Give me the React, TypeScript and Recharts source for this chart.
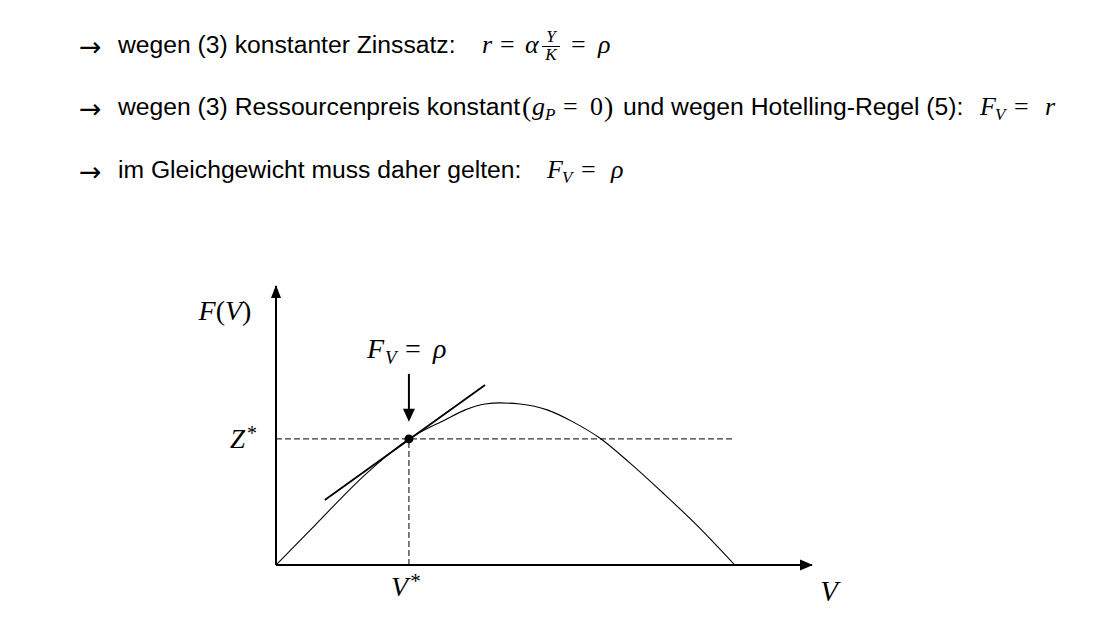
import React from 'react';
import { ComposedChart, Line, XAxis, YAxis, ReferenceLine, ReferenceDot } from 'recharts';

// ---- data (abstract units) ----
const V_STAR = 2.48;
const Z_STAR = 4.52;
const curveV = [0, 0.73, 1.66, 2.48, 3.15, 3.53, 3.9, 4.18, 4.55, 5.06, 5.54, 6.04, 6.6, 7.22, 7.85, 8.56];
const curveF = [0, 1.43, 3.23, 4.52, 5.2, 5.56, 5.77, 5.81, 5.77, 5.56, 5.13, 4.55, 3.66, 2.58, 1.43, 0];
const tangentV = [0.91, 3.9];
const tangentF = [2.33, 6.45];
const zLineV = [0, 8.51];
const xTicks = [V_STAR];
const yTicks = [Z_STAR];
const xTickLabel = 'V';
const yTickLabel = 'Z';
const X_MAX = 10;
const Y_MAX = 10;
const arrowTopF = 6.85;
const arrowBaseF = 5.5;
const arrowTipF = 5.13;

const curveData = curveV.map((v, i) => ({ x: v, y: curveF[i] }));
const tangentData = tangentV.map((v, i) => ({ x: v, y: tangentF[i] }));
const zLineData = zLineV.map((v) => ({ x: v, y: Z_STAR }));
const vLineData = [{ x: V_STAR, y: 0 }, { x: V_STAR, y: Z_STAR }];

const SERIF = '"Liberation Serif", "DejaVu Serif", serif';
const SANS = '"Liberation Sans", Arial, sans-serif';
const ARROWFONT = '"DejaVu Sans", sans-serif';

const XTick = (props: any) => {
  const { x, y } = props;
  return (
    <text x={x - 3} y={y + 31} textAnchor="middle" fontFamily={SERIF} fontSize={28} fill="#000">
      <tspan fontStyle="italic">{xTickLabel}</tspan>
      <tspan fontSize={21} dy={-8} dx={2}>*</tspan>
    </text>
  );
};

const YTick = (props: any) => {
  const { x, y } = props;
  return (
    <text x={x - 19} y={y + 9} textAnchor="end" fontFamily={SERIF} fontSize={27} fill="#000">
      <tspan fontStyle="italic">{yTickLabel}</tspan>
      <tspan fontSize={20} dy={-8} dx={2}>*</tspan>
    </text>
  );
};

const TopText = () => {
  const arrow = (y: number) => (
    <text x={79} y={y} fontFamily={ARROWFONT} fontSize={27} fill="#000">→</text>
  );
  const sans = { fontFamily: SANS, fontSize: 24.7, fill: '#000' } as any;
  const math = { fontFamily: SERIF, fontSize: 26, fill: '#000' } as any;
  return (
    <svg width={1111} height={200} style={{ position: 'absolute', left: 0, top: 0 }}>
      {arrow(56)}
      <text x={118} y={53} {...sans}>wegen (3) konstanter Zinssatz:</text>
      <text x={482} y={53} {...math} fontStyle="italic">r</text>
      <text x={500} y={53} {...math}>=</text>
      <text x={525} y={53} {...math} fontStyle="italic">α</text>
      <text x={551} y={42} {...math} fontSize={17} fontStyle="italic" textAnchor="middle">Y</text>
      <line x1={542} x2={560} y1={46.5} y2={46.5} stroke="#000" strokeWidth={1} />
      <text x={551} y={60} {...math} fontSize={17} fontStyle="italic" textAnchor="middle">K</text>
      <text x={571} y={53} {...math}>=</text>
      <text x={598} y={53} {...math} fontStyle="italic">ρ</text>

      {arrow(118)}
      <text x={118} y={115} {...sans}>wegen (3) Ressourcenpreis konstant</text>
      <text x={522} y={116} {...math} fontSize={28}>(</text>
      <text x={532} y={115} {...math} fontStyle="italic">g</text>
      <text x={545} y={120} {...math} fontSize={17} fontStyle="italic">P</text>
      <text x={563} y={115} {...math}>=</text>
      <text x={590} y={115} {...math}>0</text>
      <text x={604} y={116} {...math} fontSize={28}>)</text>
      <text x={623} y={115} {...sans}>und wegen Hotelling-Regel (5):</text>
      <text x={980} y={115} {...math} fontStyle="italic">F</text>
      <text x={995} y={120} {...math} fontSize={17} fontStyle="italic">V</text>
      <text x={1014} y={115} {...math}>=</text>
      <text x={1045} y={115} {...math} fontStyle="italic">r</text>

      {arrow(181)}
      <text x={118} y={178} {...sans}>im Gleichgewicht muss daher gelten:</text>
      <text x={547} y={178} {...math} fontStyle="italic">F</text>
      <text x={562} y={183} {...math} fontSize={17} fontStyle="italic">V</text>
      <text x={581} y={178} {...math}>=</text>
      <text x={611} y={178} {...math} fontStyle="italic">ρ</text>
    </svg>
  );
};

export default function App() {
  return (
    <div style={{ position: 'absolute', left: 0, top: 0, width: 1111, height: 621, background: '#fff', overflow: 'hidden' }}>
      <TopText />
      <div style={{ position: 'absolute', left: 0, top: 0 }}>
        <ComposedChart width={1111} height={621} margin={{ top: 286, right: 299, bottom: 16, left: 216 }}>
          <XAxis
            type="number"
            dataKey="x"
            domain={[0, X_MAX]}
            allowDataOverflow
            ticks={xTicks}
            tick={<XTick />}
            tickLine={false}
            tickSize={0}
            tickMargin={0}
            height={40}
            axisLine={{ stroke: '#000', strokeWidth: 2 }}
          />
          <YAxis
            type="number"
            dataKey="y"
            domain={[0, Y_MAX]}
            allowDataOverflow
            ticks={yTicks}
            tick={<YTick />}
            tickLine={false}
            tickSize={0}
            tickMargin={0}
            width={60}
            axisLine={{ stroke: '#000', strokeWidth: 2 }}
          />
          <Line data={zLineData} dataKey="y" type="linear" stroke="#000" strokeWidth={1} strokeDasharray="6 3" dot={false} isAnimationActive={false} />
          <Line data={vLineData} dataKey="y" type="linear" stroke="#000" strokeWidth={1} strokeDasharray="6 3" dot={false} isAnimationActive={false} />
          <Line data={curveData} dataKey="y" type="monotone" stroke="#000" strokeWidth={1.1} dot={false} isAnimationActive={false} />
          <Line data={tangentData} dataKey="y" type="linear" stroke="#000" strokeWidth={1.8} dot={false} isAnimationActive={false} />
          <ReferenceDot x={V_STAR} y={Z_STAR} r={4.5} fill="#000" stroke="none" />
          <ReferenceLine segment={[{ x: V_STAR, y: arrowTopF }, { x: V_STAR, y: arrowBaseF }]} stroke="#000" strokeWidth={2} />
          <ReferenceDot
            x={V_STAR}
            y={arrowTipF}
            r={1}
            shape={(p: any) => (
              <polygon points={`${p.cx},${p.cy} ${p.cx - 6},${p.cy - 13} ${p.cx + 6},${p.cy - 13}`} fill="#000" />
            )}
          />
          <ReferenceDot
            x={X_MAX}
            y={0}
            r={1}
            ifOverflow="visible"
            shape={(p: any) => (
              <polygon points={`${p.cx + 1},${p.cy} ${p.cx - 12},${p.cy - 5.5} ${p.cx - 12},${p.cy + 5.5}`} fill="#000" />
            )}
          />
          <ReferenceDot
            x={0}
            y={Y_MAX}
            r={1}
            ifOverflow="visible"
            shape={(p: any) => (
              <g>
                <polygon points={`${p.cx},${p.cy - 1} ${p.cx - 5},${p.cy + 12} ${p.cx + 5},${p.cy + 12}`} fill="#000" />
                <text x={p.cx - 51} y={p.cy + 34} textAnchor="middle" fontFamily={SERIF} fontSize={28} fill="#000">
                  <tspan fontStyle="italic">F</tspan>
                  <tspan>(</tspan>
                  <tspan fontStyle="italic">V</tspan>
                  <tspan>)</tspan>
                </text>
              </g>
            )}
          />
          <ReferenceDot
            x={X_MAX}
            y={0}
            r={1}
            ifOverflow="visible"
            shape={(p: any) => (
              <text x={p.cx + 17} y={p.cy + 36} textAnchor="middle" fontFamily={SERIF} fontSize={29} fontStyle="italic" fill="#000">V</text>
            )}
          />
          <ReferenceDot
            x={V_STAR}
            y={arrowTopF}
            r={1}
            shape={(p: any) => (
              <g fontFamily={SERIF} fill="#000">
                <text x={p.cx - 42} y={p.cy - 16} fontSize={28} fontStyle="italic">F</text>
                <text x={p.cx - 24} y={p.cy - 10} fontSize={19} fontStyle="italic">V</text>
                <text x={p.cx - 4} y={p.cy - 16} fontSize={28}>=</text>
                <text x={p.cx + 24} y={p.cy - 16} fontSize={28} fontStyle="italic">ρ</text>
              </g>
            )}
          />
        </ComposedChart>
      </div>
    </div>
  );
}
